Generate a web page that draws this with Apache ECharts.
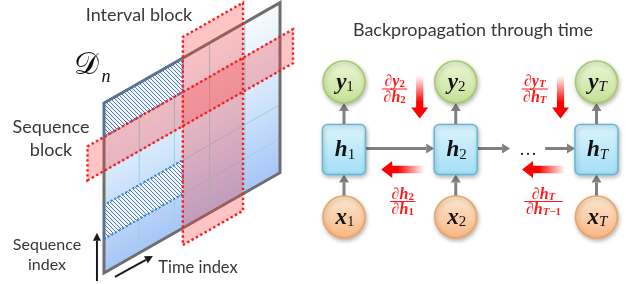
<!DOCTYPE html>
<html><head><meta charset="utf-8">
<script src="https://cdn.jsdelivr.net/npm/echarts@6/dist/echarts.min.js"></script>
<style>html,body{margin:0;padding:0;background:#fff}#c{width:626px;height:284px}</style>
</head><body><div id="c"></div>
<script>
// ---------- Left panel data (time index x sequence index) ----------
const timeCols = [0, 1, 2, 3, 4, 5];          // column boundaries (time index)
const seqRows = [0, 1, 2, 3, 4, 5];           // row boundaries (sequence index)
const hatchedBlocks = [[0, 2.24, 4, 5], [0, 2.24, 1, 2]];   // [t0, t1, s0, s1]
const sequenceBlock = [-0.47, 5.37, 3, 4];
const intervalBlock = [2.24, 3.95, -0.5, 5.62];
const seqIndexArrow = [-0.2, -0.12, -0.2, 1.3];  // [t0,s0,t1,s1]
const timeIndexArrow = [0.31, -0.3, 1.39, -0.32];

// ---------- Right panel data (unrolled RNN) ----------
const steps = ['1', '2', 'T'];
const stepPos = [1, 2, 3.26];
const layers = ['x', 'h', 'y'];
const layerPos = [0, 1, 2];
const forwardEdges = [[0, 1], [1, 2]];
const outputGrads = [{ to: 1, num: ['y', '2'], den: ['h', '2'] }, { to: 2, num: ['y', 'T'], den: ['h', 'T'] }];
const hiddenGrads = [{ to: 1, num: ['h', '2'], den: ['h', '1'] }, { to: 2, num: ['h', 'T'], den: ['h', 'T−1'] }];

const SKEW = 0.57;
const RED = '#ff1a1a';
const MATH = 'Liberation Serif';
const FRAC = 16;

// hatch pattern
const pc = document.createElement('canvas'); pc.width = 4; pc.height = 4;
(function () {
  const g = pc.getContext('2d');
  g.fillStyle = '#f2f6fc'; g.fillRect(0, 0, 4, 4);
  g.strokeStyle = '#4a7db6'; g.lineWidth = 1;
  g.beginPath();
  g.moveTo(0, 0); g.lineTo(4, 4);
  g.moveTo(-2, 2); g.lineTo(2, 6);
  g.moveTo(2, -2); g.lineTo(6, 2);
  g.stroke();
})();

function leftPanel(params, api) {
  const o = api.coord([0, 0]);
  const P = (u, v) => { const c = api.coord([u, v]); return [c[0], c[1] - (c[0] - o[0]) * SKEW]; };
  const quad = (b) => [P(b[0], b[2]), P(b[1], b[2]), P(b[1], b[3]), P(b[0], b[3])];
  const n = timeCols.length - 1, m = seqRows.length - 1;
  const full = [timeCols[0], timeCols[n], seqRows[0], seqRows[m]];
  const ch = [];
  const A = P(timeCols[0], seqRows[0]), T5 = P(timeCols[0], seqRows[m]);
  const k = 1 / Math.sqrt(1 + SKEW * SKEW), dist = (A[1] - T5[1]) * k;
  const B = [A[0] - SKEW * k * dist, A[1] - k * dist];
  ch.push({ type: 'polygon', shape: { points: quad(full) }, style: {
    fill: { type: 'linear', global: true, x: A[0], y: A[1], x2: B[0], y2: B[1],
      colorStops: [{ offset: 0, color: '#a6c6f6' }, { offset: 0.5, color: '#d2e5fb' }, { offset: 1, color: '#f6fbfe' }] } } });
  for (let i = 1; i < n; i++) {
    const a = P(timeCols[i], seqRows[0]), b = P(timeCols[i], seqRows[m]);
    ch.push({ type: 'line', shape: { x1: a[0], y1: a[1], x2: b[0], y2: b[1] }, style: { stroke: '#98d3de', lineWidth: 1 } });
  }
  for (let j = 1; j < m; j++) {
    const a = P(timeCols[0], seqRows[j]), b = P(timeCols[n], seqRows[j]);
    ch.push({ type: 'line', shape: { x1: a[0], y1: a[1], x2: b[0], y2: b[1] }, style: { stroke: '#98d3de', lineWidth: 1 } });
  }
  hatchedBlocks.forEach(h => {
    ch.push({ type: 'polygon', shape: { points: quad(h) }, style: { fill: { image: pc, repeat: 'repeat' } } });
  });
  ch.push({ type: 'polygon', shape: { points: quad(full) }, style: { fill: null, stroke: '#6e6e6e', lineWidth: 3, lineJoin: 'miter' } });
  hatchedBlocks.forEach(h => {
    ch.push({ type: 'polygon', shape: { points: quad(h) }, style: { fill: null, stroke: '#2f7fd4', lineWidth: 2, lineDash: [2, 2.2] } });
  });
  [sequenceBlock, intervalBlock].forEach(b => {
    ch.push({ type: 'polygon', shape: { points: quad(b) }, style: { fill: 'rgba(255,60,60,0.3)' } });
  });
  [sequenceBlock, intervalBlock].forEach(b => {
    ch.push({ type: 'polygon', shape: { points: quad(b) }, style: { fill: null, stroke: RED, lineWidth: 2.4, lineDash: [2.4, 2.6] } });
  });
  [seqIndexArrow, timeIndexArrow].forEach(a => {
    const s = P(a[0], a[1]), e = P(a[2], a[3]);
    const dx = e[0] - s[0], dy = e[1] - s[1], L = Math.hypot(dx, dy), ux = dx / L, uy = dy / L;
    const hl = 8, hw = 4;
    const bx = e[0] - ux * hl, by = e[1] - uy * hl;
    ch.push({ type: 'line', shape: { x1: s[0], y1: s[1], x2: bx, y2: by }, style: { stroke: '#1a1a1a', lineWidth: 2 } });
    ch.push({ type: 'polygon', shape: { points: [e, [bx - uy * hw, by + ux * hw], [bx + uy * hw, by - ux * hw]] }, style: { fill: '#1a1a1a' } });
  });
  return { type: 'group', children: ch };
}

// ---------- text helpers ----------
const mctx = document.createElement('canvas').getContext('2d');
function subTokens(sub, big) {
  let out = '';
  const sI = big ? 'bsi' : 'si', sU = big ? 'bs' : 's';
  for (const chr of sub) out += /[A-Za-z]/.test(chr) ? `{${sI}|${chr}}` : `{${sU}|${chr}}`;
  return out;
}
function fracRich(size) {
  const sub = size * 0.68;
  return {
    d: { fontSize: size, fontFamily: MATH, fill: RED, color: RED, lineHeight: size, verticalAlign: 'middle' },
    v: { fontSize: size, fontFamily: MATH, fontWeight: 'bold', fontStyle: 'italic', fill: RED, color: RED, lineHeight: size, verticalAlign: 'middle' },
    s: { fontSize: sub, fontFamily: MATH, fontWeight: 'bold', fill: RED, color: RED, lineHeight: sub, verticalAlign: 'bottom' },
    si: { fontSize: sub, fontFamily: MATH, fontStyle: 'italic', fontWeight: 'bold', fill: RED, color: RED, lineHeight: sub, verticalAlign: 'bottom' }
  };
}
function measure(letter, sub, size) {
  mctx.font = `${size}px "${MATH}"`; let w = mctx.measureText('∂').width;
  mctx.font = `italic bold ${size}px "${MATH}"`; w += mctx.measureText(letter).width;
  mctx.font = `italic bold ${size * 0.68}px "${MATH}"`; w += mctx.measureText(sub).width;
  return w;
}
function fraction(cx, barY, f, size) {
  const rich = fracRich(size);
  const wn = measure(f.num[0], f.num[1], size), wd = measure(f.den[0], f.den[1], size);
  const w = Math.max(wn, wd) + 3;
  return [
    { type: 'text', x: cx, y: barY + 1, style: { text: `{d|∂}{v|${f.num[0]}}` + subTokens(f.num[1]), rich, align: 'center', verticalAlign: 'bottom' } },
    { type: 'line', shape: { x1: cx - w / 2, y1: barY, x2: cx + w / 2, y2: barY }, style: { stroke: RED, lineWidth: 1 } },
    { type: 'text', x: cx, y: barY + 0.5, style: { text: `{d|∂}{v|${f.den[0]}}` + subTokens(f.den[1]), rich, align: 'center', verticalAlign: 'top' } }
  ];
}

const NODE_R = 21, BOX_W = 43, BOX_H = 50;
const nodeStyles = {
  y: { top: '#ecf7d6', bot: '#c4e196', stroke: '#a3cc68' },
  h: { top: '#dcf5fe', bot: '#a3def5', stroke: '#62b8d8' },
  x: { top: '#fee8d2', bot: '#f8b683', stroke: '#efa35c' }
};
const nodeRich = {
  v: { fontSize: 23, fontFamily: MATH, fontWeight: 'bold', fontStyle: 'italic', fill: '#111', color: '#111', lineHeight: 24, verticalAlign: 'middle' },
  bs: { fontSize: 15, fontFamily: MATH, fill: '#111', color: '#111', lineHeight: 14, verticalAlign: 'bottom' },
  bsi: { fontSize: 15, fontFamily: MATH, fontStyle: 'italic', fill: '#111', color: '#111', lineHeight: 14, verticalAlign: 'bottom' }
};

function nodeItem(params, api) {
  const c = api.coord([api.value(0), api.value(1)]);
  const si = api.value(2), li = api.value(3);
  const letter = layers[li], st = nodeStyles[letter];
  const fill = { type: 'linear', x: 0, y: 0, x2: 0, y2: 1, colorStops: [{ offset: 0, color: st.top }, { offset: 1, color: st.bot }] };
  const sh = { shadowBlur: 4, shadowColor: 'rgba(0,0,0,0.28)', shadowOffsetX: 1, shadowOffsetY: 2 };
  const shape = letter === 'h'
    ? { type: 'rect', shape: { x: c[0] - BOX_W / 2, y: c[1] - BOX_H / 2, width: BOX_W, height: BOX_H, r: 5 }, style: Object.assign({ fill, stroke: st.stroke, lineWidth: 1.5 }, sh) }
    : { type: 'circle', shape: { cx: c[0], cy: c[1], r: NODE_R }, style: Object.assign({ fill, stroke: st.stroke, lineWidth: 1.5 }, sh) };
  const label = { type: 'text', x: c[0] + 1, y: c[1] + 1, style: { text: `{v|${letter}}` + subTokens(steps[si], true), rich: nodeRich, align: 'center', verticalAlign: 'middle' } };
  return { type: 'group', children: [shape, label] };
}

function grayArrow(x1, y1, x2, y2) {
  const dx = x2 - x1, dy = y2 - y1, L = Math.hypot(dx, dy), ux = dx / L, uy = dy / L;
  const hl = 8, hw = 5;
  const bx = x2 - ux * hl, by = y2 - uy * hl;
  return [
    { type: 'line', shape: { x1, y1, x2: bx, y2: by }, style: { stroke: '#808080', lineWidth: 3 } },
    { type: 'polygon', shape: { points: [[x2, y2], [bx - uy * hw, by + ux * hw], [bx + uy * hw, by - ux * hw]] }, style: { fill: '#808080' } }
  ];
}

function edgesItem(params, api) {
  const ch = [];
  stepPos.forEach(t => {
    const px = api.coord([t, layerPos[0]]), ph = api.coord([t, layerPos[1]]), py = api.coord([t, layerPos[2]]);
    ch.push(...grayArrow(px[0], px[1] - NODE_R, ph[0], ph[1] + BOX_H / 2));
    ch.push(...grayArrow(ph[0], ph[1] - BOX_H / 2, py[0], py[1] + NODE_R));
  });
  forwardEdges.forEach(e => {
    const a = api.coord([stepPos[e[0]], layerPos[1]]), b = api.coord([stepPos[e[1]], layerPos[1]]);
    const x1 = a[0] + BOX_W / 2, x2 = b[0] - BOX_W / 2;
    if (stepPos[e[1]] - stepPos[e[0]] > 1.1) {
      const mid = (a[0] + b[0]) / 2 + 2;
      ch.push(...grayArrow(x1, a[1] - 1, mid - 18, a[1] - 1));
      ch.push(...grayArrow(mid + 17, a[1] - 1, x2, a[1] - 1));
      ch.push({ type: 'text', x: mid, y: a[1] + 1, style: { text: '…', font: `18px "${MATH}"`, fill: '#222', align: 'center', verticalAlign: 'middle' } });
    } else {
      ch.push(...grayArrow(x1, a[1] - 1, x2, a[1] - 1));
    }
  });
  return { type: 'group', children: ch };
}

function gradItem(params, api) {
  const ch = [];
  outputGrads.forEach(g => {
    const py = api.coord([stepPos[g.to], layerPos[2]]), ph = api.coord([stepPos[g.to], layerPos[1]]);
    const ax = py[0] - 36, top = py[1] - 6, tip = ph[1] - 31, hl = 11, sw = 3.6, hw = 8.5;
    ch.push({ type: 'polygon', shape: { points: [[ax - sw, top], [ax + sw, top], [ax + sw, tip - hl], [ax + hw, tip - hl], [ax, tip], [ax - hw, tip - hl], [ax - sw, tip - hl]] },
      style: { fill: { type: 'linear', x: 0, y: 0, x2: 0, y2: 1, colorStops: [{ offset: 0, color: 'rgba(255,0,0,0)' }, { offset: 0.62, color: '#ff0000' }, { offset: 1, color: '#ff0000' }] } } });
    const w = Math.max(measure(g.num[0], g.num[1], FRAC), measure(g.den[0], g.den[1], FRAC));
    const cx = ax - 14 - w / 2;
    ch.push(...fraction(cx, py[1] + 7, g, FRAC));
  });
  hiddenGrads.forEach(g => {
    const ph = api.coord([stepPos[g.to], layerPos[1]]);
    const tail = ph[0] - BOX_W / 2 - 10, head = tail - 43, y = ph[1] + 20, hl = 11, sw = 3.8, hw = 8.5;
    ch.push({ type: 'polygon', shape: { points: [[tail, y - sw], [tail, y + sw], [head + hl, y + sw], [head + hl, y + hw], [head, y], [head + hl, y - hw], [head + hl, y - sw]] },
      style: { fill: { type: 'linear', x: 1, y: 0, x2: 0, y2: 0, colorStops: [{ offset: 0, color: 'rgba(255,0,0,0)' }, { offset: 0.62, color: '#ff0000' }, { offset: 1, color: '#ff0000' }] } } });
    ch.push(...fraction((tail + head) / 2, y + 32, g, FRAC));
  });
  return { type: 'group', children: ch };
}

const nodeData = [];
steps.forEach((s, i) => layers.forEach((l, j) => nodeData.push([stepPos[i], layerPos[j], i, j])));

const FONT = 'Lato';
const txt = (text, x, y, size) => ({ type: 'text', x, y, style: { text, font: `${size}px ${FONT}`, fill: '#383838', align: 'center', verticalAlign: 'middle', textAlign: 'center', textVerticalAlign: 'middle' } });

const chart = echarts.init(document.getElementById('c'), null, { renderer: 'canvas' });
chart.setOption({
  animation: false,
  grid: [
    { left: 104, top: 103, width: 176, height: 170 },
    { left: 344, top: 82, width: 252.5, height: 135 }
  ],
  xAxis: [
    { type: 'value', gridIndex: 0, min: 0, max: 5, show: false },
    { type: 'value', gridIndex: 1, min: 1, max: 3.26, show: false }
  ],
  yAxis: [
    { type: 'value', gridIndex: 0, min: 0, max: 5, show: false },
    { type: 'value', gridIndex: 1, min: 0, max: 2, show: false }
  ],
  graphic: [
    txt('Interval block', 139, 15, 18),
    txt('Sequence', 51, 127, 18), txt('block', 51, 150, 18),
    txt('Sequence', 47, 245, 16), txt('index', 47, 265, 16),
    txt('Time index', 198, 268, 16.5),
    txt('Backpropagation through time', 473, 30, 18),
    { type: 'text', x: 86, y: 66, style: { text: '𝒟', font: `31px "DejaVu Serif"`, fill: '#111', align: 'center', verticalAlign: 'middle' } },
    { type: 'text', x: 106, y: 77, style: { text: 'n', font: `italic 18px "${MATH}"`, fill: '#111', align: 'center', verticalAlign: 'middle' } }
  ],
  series: [
    { type: 'custom', xAxisIndex: 0, yAxisIndex: 0, clip: false, data: [[0, 0]], renderItem: leftPanel, silent: true },
    { type: 'custom', xAxisIndex: 1, yAxisIndex: 1, clip: false, data: [[1, 0]], renderItem: edgesItem, silent: true },
    { type: 'custom', xAxisIndex: 1, yAxisIndex: 1, clip: false, data: nodeData, renderItem: nodeItem, silent: true },
    { type: 'custom', xAxisIndex: 1, yAxisIndex: 1, clip: false, data: [[1, 0]], renderItem: gradItem, silent: true }
  ]
});
</script></body></html>
